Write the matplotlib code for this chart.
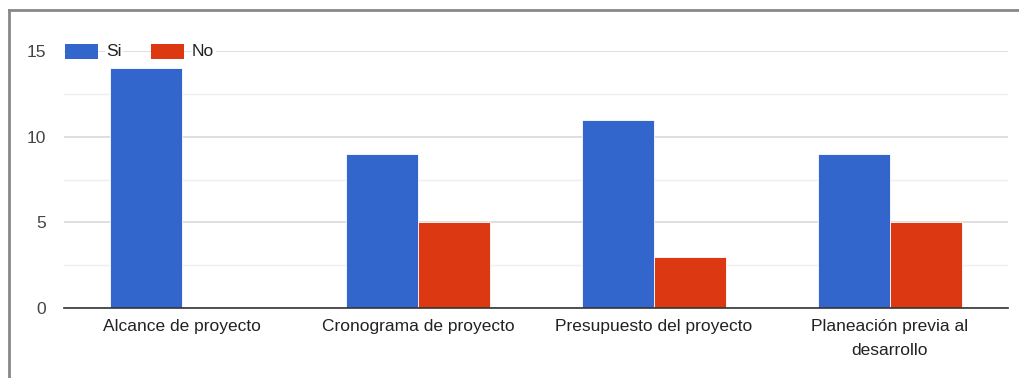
import matplotlib.pyplot as plt
import numpy as np
from matplotlib.patches import Rectangle

# Survey results per project aspect
categorias = ["Alcance de proyecto", "Cronograma de proyecto",
              "Presupuesto del proyecto", "Planeación previa al\ndesarrollo"]
si = [14, 9, 11, 9]
no = [0, 5, 3, 5]
series = ["Si", "No"]
colores = ["#3366cc", "#dc3912"]

plt.rcParams['font.family'] = ['Liberation Sans', 'DejaVu Sans']

fig = plt.figure(figsize=(10.2, 3.78), dpi=100)
ax = fig.add_axes([64 / 1020, 1 - 308 / 378, 944 / 1020, 257 / 378])

x = np.arange(len(categorias))
w = 0.305
ax.bar(x - w / 2, si, w, color=colores[0], edgecolor='white', lw=0.6, zorder=3)
ax.bar(x + w / 2, no, w, color=colores[1], edgecolor='white', lw=0.6, zorder=3)

ax.set_xlim(-0.5, len(categorias) - 0.5)
ax.set_ylim(0, 15)
ax.set_yticks([0, 5, 10, 15])
ax.set_yticks([2.5, 7.5, 12.5], minor=True)
ax.grid(axis='y', which='major', color='#d9d9d9', lw=1.2, zorder=0)
ax.grid(axis='y', which='minor', color='#efefef', lw=1.0, zorder=0)
ax.set_xticks(x)
ax.set_xticklabels(categorias, fontsize=12.5, color='#222222', linespacing=1.7)
ax.tick_params(axis='both', which='both', length=0)
ax.tick_params(axis='y', labelsize=12.5, labelcolor='#444444', pad=13)
ax.tick_params(axis='x', pad=8)
for s in ['top', 'right', 'left']:
    ax.spines[s].set_visible(False)
ax.spines['bottom'].set_color('#333333')
ax.spines['bottom'].set_linewidth(1.2)
ax.spines['bottom'].set_zorder(4)

# legend drawn over the top gridline
ly = 1 - 51 / 378
lh = 15 / 378
for nombre, color, px in zip(series, colores, [65, 151]):
    fig.patches.append(Rectangle((px / 1020, ly - lh / 2), 33 / 1020, lh,
                                 transform=fig.transFigure, facecolor=color,
                                 edgecolor='none', zorder=5))
    fig.text((px + 41) / 1020, ly, nombre, fontsize=12.5, color='#222222',
             va='center', ha='left', zorder=5,
             bbox=dict(facecolor='white', edgecolor='none', pad=1.0))

# outer frame
fig.add_artist(plt.Line2D([9 / 1020, 9 / 1020], [0, 1 - 10 / 378],
                          transform=fig.transFigure, color='#888888', lw=2))
fig.add_artist(plt.Line2D([9 / 1020, 1], [1 - 10 / 378, 1 - 10 / 378],
                          transform=fig.transFigure, color='#888888', lw=2))

fig.savefig("out.png", dpi=100)
